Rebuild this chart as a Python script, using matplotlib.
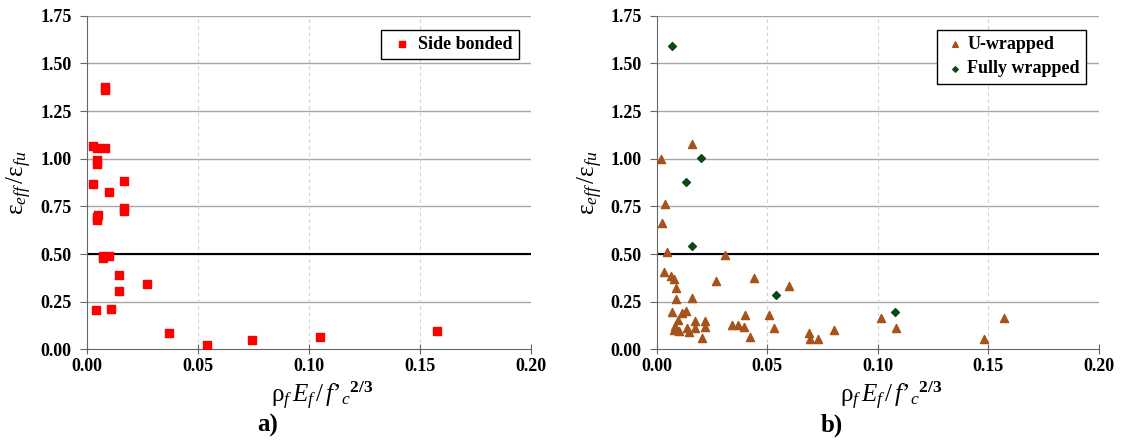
import matplotlib
matplotlib.use("Agg")
import matplotlib.pyplot as plt

plt.rcParams['font.family'] = 'Liberation Serif'
plt.rcParams['mathtext.fontset'] = 'custom'
plt.rcParams['mathtext.rm'] = 'Liberation Serif'
plt.rcParams['mathtext.it'] = 'Liberation Serif:italic'
plt.rcParams['mathtext.bf'] = 'Liberation Serif:bold'

# a) side bonded
side_x = [0.0083, 0.0083, 0.0030, 0.0045, 0.0084, 0.0045, 0.0045, 0.0030, 0.0167, 0.0102,
          0.0167, 0.0167, 0.0053, 0.0048, 0.0045, 0.0072, 0.0075, 0.0101, 0.0146, 0.0273,
          0.0146, 0.0044, 0.0111, 0.0370, 0.0540, 0.0744, 0.1050, 0.1576]
side_y = [1.374, 1.360, 1.068, 1.058, 1.054, 0.993, 0.972, 0.869, 0.883, 0.827,
          0.740, 0.726, 0.705, 0.692, 0.678, 0.490, 0.477, 0.491, 0.388, 0.341,
          0.306, 0.205, 0.213, 0.086, 0.024, 0.051, 0.065, 0.096]

# b) U-wrapped
u_x = [0.0158, 0.0020, 0.0039, 0.0026, 0.0045, 0.0310, 0.0035, 0.0063, 0.0080, 0.0087,
       0.0087, 0.0160, 0.0270, 0.0440, 0.0600, 0.0068, 0.0114, 0.0133, 0.0095, 0.0083,
       0.0080, 0.0099, 0.0136, 0.0146, 0.0173, 0.0173, 0.0203, 0.0220, 0.0220, 0.0340,
       0.0370, 0.0396, 0.0398, 0.0420, 0.0507, 0.0533, 0.0690, 0.0694, 0.0729, 0.0803,
       0.1014, 0.1085, 0.1480, 0.1570]
u_y = [1.077, 1.000, 0.762, 0.663, 0.512, 0.497, 0.407, 0.385, 0.367, 0.320,
       0.262, 0.267, 0.358, 0.374, 0.332, 0.195, 0.189, 0.199, 0.156, 0.121,
       0.100, 0.098, 0.110, 0.092, 0.149, 0.110, 0.061, 0.147, 0.117, 0.125,
       0.125, 0.119, 0.179, 0.064, 0.180, 0.113, 0.084, 0.052, 0.052, 0.100,
       0.165, 0.110, 0.052, 0.165]

# b) fully wrapped
full_x = [0.0068, 0.0202, 0.0134, 0.0161, 0.0539, 0.1080]
full_y = [1.593, 1.002, 0.879, 0.542, 0.285, 0.195]

xticks = [0.00, 0.05, 0.10, 0.15, 0.20]
yticks = [0.00, 0.25, 0.50, 0.75, 1.00, 1.25, 1.50, 1.75]

xlabel = r"$\mathrm{\rho}_f\,E_f\,\mathrm{/}\,f\mathrm{’}_{c}{}^{\mathbf{2/3}}$"
ylabel = r"$\mathrm{\varepsilon}_{eff}\,\mathrm{/}\mathrm{\varepsilon}_{fu}$"

fig = plt.figure(figsize=(11.23, 4.47), dpi=100)
ax1 = fig.add_axes([0.0772, 0.2186, 0.396, 0.746])
ax2 = fig.add_axes([0.5848, 0.2186, 0.3935, 0.746])


def style(ax):
    ax.set_xlim(0, 0.20)
    ax.set_ylim(0, 1.75)
    ax.set_xticks(xticks)
    ax.set_yticks(yticks)
    ax.set_xticklabels(["%.2f" % v for v in xticks], fontweight='bold', fontsize=13)
    ax.set_yticklabels(["%.2f" % v for v in yticks], fontweight='bold', fontsize=13)
    for y in yticks[1:]:
        ax.axhline(y, color='#a6a6a6', lw=1.0, zorder=0)
    for x in xticks[1:-1]:
        ax.axvline(x, color='#d0d0d0', lw=0.8, ls=(0, (3, 3)), zorder=0)
    ax.axhline(0.5, color='black', lw=1.5, zorder=1)
    ax.spines['top'].set_visible(False)
    ax.spines['right'].set_visible(False)
    ax.spines['left'].set_color('#666666')
    ax.spines['bottom'].set_color('#666666')
    ax.tick_params(axis='y', direction='out', length=5, color='#666666', pad=6)
    ax.tick_params(axis='x', direction='inout', length=7, color='#666666', pad=3)
    ax.set_xlabel(xlabel, fontsize=18)
    ax.xaxis.set_label_coords(0.53, -0.092, transform=ax.transAxes)
    ax.xaxis.label.set_va('top')
    ax.set_ylabel(ylabel, fontsize=18, labelpad=4)


style(ax1)
ax1.scatter(side_x, side_y, marker='s', s=36, color='#ff0000', zorder=3, label='Side bonded')
leg1 = ax1.legend(loc='upper right', bbox_to_anchor=(0.992, 0.985), prop={'weight': 'bold', 'size': 13},
                  fancybox=False, edgecolor='black', framealpha=1, handletextpad=0.1,
                  borderpad=0.35, markerscale=0.7, handlelength=1.6)
leg1.get_frame().set_linewidth(1.0)

style(ax2)
ax2.scatter(u_x, u_y, marker='^', s=34, color='#a5521b', zorder=3, label='U-wrapped')
ax2.scatter(full_x, full_y, marker='D', s=16, color='#0b4a16', zorder=3, label='Fully wrapped')
leg2 = ax2.legend(loc='upper right', bbox_to_anchor=(0.992, 0.985), prop={'weight': 'bold', 'size': 13},
                  fancybox=False, edgecolor='black', framealpha=1, handletextpad=0.1,
                  borderpad=0.35, markerscale=0.7, labelspacing=0.4, handlelength=1.2)
leg2.get_frame().set_linewidth(1.0)

fig.text(0.238, 0.035, 'a)', fontsize=18, fontweight='bold', ha='center')
fig.text(0.741, 0.035, 'b)', fontsize=18, fontweight='bold', ha='center')

fig.savefig('out.png', dpi=100)
